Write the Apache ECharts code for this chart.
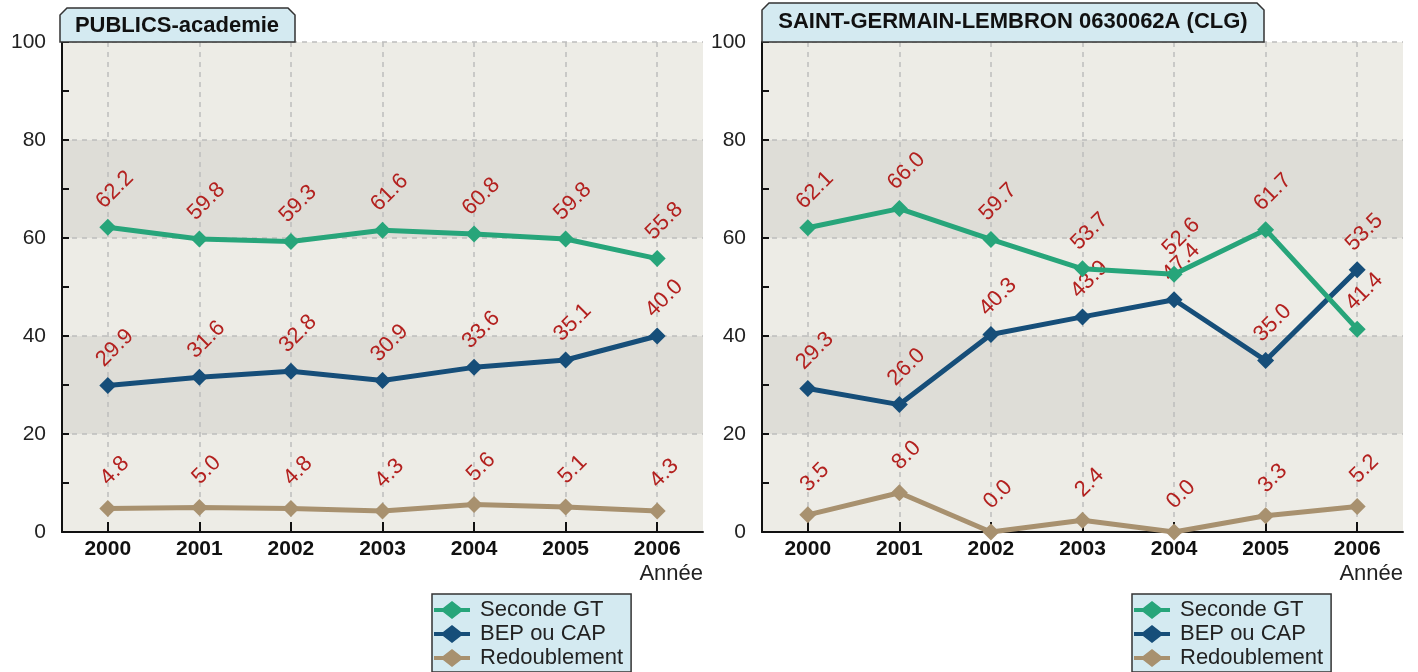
<!DOCTYPE html>
<html>
<head>
<meta charset="utf-8">
<script src="https://cdn.jsdelivr.net/npm/echarts@6/dist/echarts.min.js"></script>
<style>
html,body{margin:0;padding:0;background:#fff;}
#chart{width:1418px;height:672px;}
</style>
</head>
<body>
<div id="chart"></div>
<script>
const years = ['2000','2001','2002','2003','2004','2005','2006'];
const yTicks = [0, 20, 40, 60, 80, 100];
const seriesNames = ['Seconde GT', 'BEP ou CAP', 'Redoublement'];
const titles = ['PUBLICS-academie', 'SAINT-GERMAIN-LEMBRON 0630062A (CLG)'];
const xAxisName = 'Année';

// Left panel: PUBLICS-academie
const leftSeconde = [62.2, 59.8, 59.3, 61.6, 60.8, 59.8, 55.8];
const leftBep = [29.9, 31.6, 32.8, 30.9, 33.6, 35.1, 40.0];
const leftRedoublement = [4.8, 5.0, 4.8, 4.3, 5.6, 5.1, 4.3];

// Right panel: SAINT-GERMAIN-LEMBRON
const rightSeconde = [62.1, 66.0, 59.7, 53.7, 52.6, 61.7, 41.4];
const rightBep = [29.3, 26.0, 40.3, 43.9, 47.4, 35.0, 53.5];
const rightRedoublement = [3.5, 8.0, 0.0, 2.4, 0.0, 3.3, 5.2];

const colors = ['#27A57A', '#164E79', '#A8916F'];
const labelColor = '#B3211F';
const FONT = '"Liberation Sans", Arial, sans-serif';
const LEGEND_ICON = 'path://M0,7L9,7L18,0L27,7L36,7L36,11L27,11L18,18L9,11L0,11Z';

const chart = echarts.init(document.getElementById('chart'));

const grids = [
  {left: 62, top: 42, width: 641, height: 490},
  {left: 762, top: 42, width: 641, height: 490}
];

function xAxisFor(i) {
  return {
    type: 'category', gridIndex: i, data: years, boundaryGap: true,
    axisLine: {show: true, lineStyle: {color: '#111', width: 2}},
    axisTick: {show: true, inside: true, length: 10, alignWithLabel: true, lineStyle: {color: '#111', width: 2}},
    axisLabel: {color: '#111', fontSize: 21, fontWeight: 'bold', fontFamily: FONT, margin: 7},
    splitLine: {show: true, alignWithLabel: true, lineStyle: {color: '#BDBDBD', type: [5, 5], width: 1.5}}
  };
}
function yAxisFor(i) {
  return {
    type: 'value', gridIndex: i, min: yTicks[0], max: yTicks[yTicks.length - 1], interval: 20,
    axisLine: {show: true, lineStyle: {color: '#111', width: 2}},
    axisTick: {show: true, inside: true, length: 7, lineStyle: {color: '#111', width: 2}},
    minorTick: {show: true, splitNumber: 2, length: 7, lineStyle: {color: '#111', width: 2}},
    axisLabel: {color: '#222', fontSize: 21, fontFamily: FONT, margin: 16},
    splitLine: {show: true, lineStyle: {color: '#BDBDBD', type: [5, 5], width: 1.5}},
    splitArea: {show: true, areaStyle: {color: ['#EDECE6', '#DEDDD7']}}
  };
}

function mkSeries(name, data, idx, gi) {
  return {
    name: name, type: 'line', data: data,
    xAxisIndex: gi, yAxisIndex: gi,
    symbol: 'diamond', symbolSize: 17,
    lineStyle: {width: 5, color: colors[idx]},
    itemStyle: {color: colors[idx]},
    z: 3 - idx + 2,
    label: {
      show: true, position: 'top', distance: 29, rotate: 45,
      align: 'center', verticalAlign: 'middle', offset: [5, 5],
      color: labelColor, fontSize: 22, fontFamily: FONT,
      formatter: p => Number(p.value).toFixed(1)
    }
  };
}

function legendFor(i, left) {
  return {
    show: true, orient: 'vertical', left: left, top: 594,
    data: seriesNames.map(n => ({name: n, icon: LEGEND_ICON})),
    backgroundColor: '#D4EAF1', borderColor: '#333', borderWidth: 1.5,
    padding: [4, 8, 2, 2], itemGap: 0, itemWidth: 36, itemHeight: 18,
    textStyle: {color: '#222', fontSize: 22, fontFamily: FONT, lineHeight: 24, padding: [0, 0, 0, 5]},
    selectedMode: false
  };
}

function tab(x1, x2, yTop, yBot, text, cx, cy) {
  const c = 7;
  return [
    {
      type: 'polygon', z: 100,
      shape: {points: [[x1, yBot], [x1, yTop + c], [x1 + c, yTop], [x2 - c, yTop], [x2, yTop + c], [x2, yBot]]},
      style: {fill: '#D4EAF1', stroke: '#333', lineWidth: 1.5}
    },
    {
      type: 'text', z: 101, x: cx, y: cy,
      style: {text: text, fill: '#111', font: 'bold 22px ' + FONT, align: 'center', verticalAlign: 'middle'}
    }
  ];
}

const option = {
  animation: false,
  backgroundColor: '#fff',
  grid: grids,
  xAxis: [xAxisFor(0), xAxisFor(1)],
  yAxis: [yAxisFor(0), yAxisFor(1)],
  legend: [legendFor(0, 432), legendFor(1, 1132)],
  series: [
    mkSeries(seriesNames[0], leftSeconde, 0, 0),
    mkSeries(seriesNames[1], leftBep, 1, 0),
    mkSeries(seriesNames[2], leftRedoublement, 2, 0),
    mkSeries(seriesNames[0], rightSeconde, 0, 1),
    mkSeries(seriesNames[1], rightBep, 1, 1),
    mkSeries(seriesNames[2], rightRedoublement, 2, 1)
  ],
  graphic: [
    ...tab(60, 295, 8, 42, titles[0], 177, 26),
    ...tab(762, 1264, 3, 42, titles[1], 1013, 22),
    {type: 'text', x: 703, y: 574, style: {text: xAxisName, fill: '#222', font: '22px ' + FONT, align: 'right', verticalAlign: 'middle'}},
    {type: 'text', x: 1403, y: 574, style: {text: xAxisName, fill: '#222', font: '22px ' + FONT, align: 'right', verticalAlign: 'middle'}}
  ]
};
chart.setOption(option);
</script>
</body>
</html>
